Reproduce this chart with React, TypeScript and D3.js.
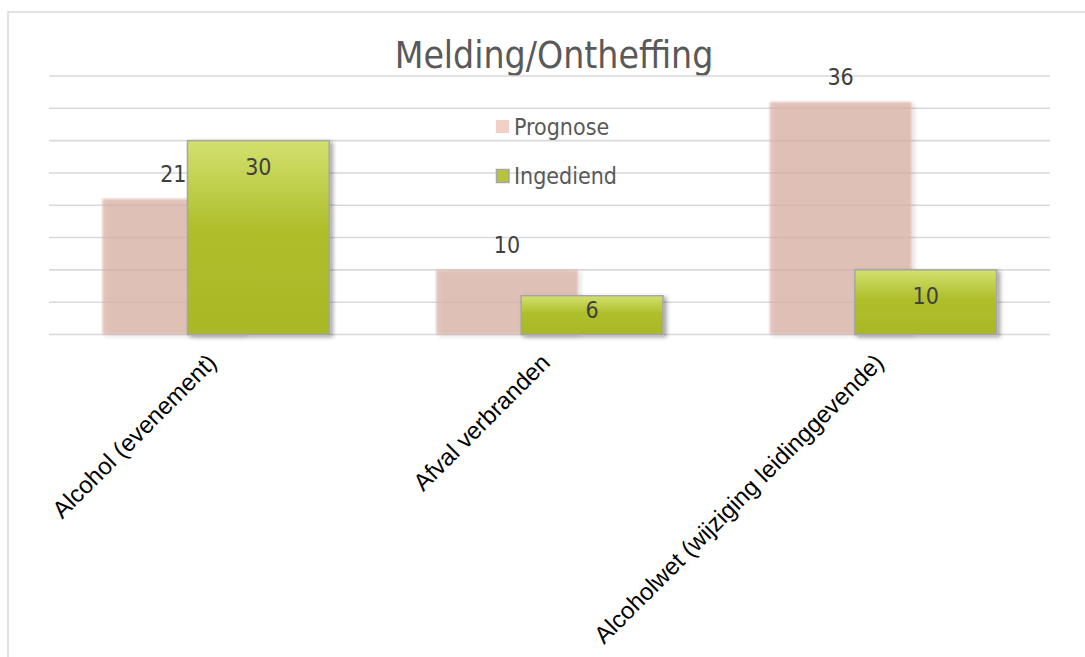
import React from "react";
import * as d3 from "d3";

const categories = ["Alcohol (evenement)", "Afval verbranden", "Alcoholwet (wijziging leidinggevende)"];
const seriesNames = ["Prognose", "Ingediend"];
const prognose = [21, 10, 36];
const ingediend = [30, 6, 10];
const yMax = 40;
const yTickStep = 5;

const W = 1085;
const H = 657;
const condensed = "'DejaVu Sans Condensed', 'DejaVu Sans', sans-serif";

export default function App() {
  const x = d3.scaleBand<string>().domain(categories).range([49, 1050]).paddingInner(0.32).paddingOuter(0.16);
  const y = d3.scaleLinear().domain([0, yMax]).range([334.5, 76]);
  const ticks = d3.range(0, yMax + yTickStep, yTickStep);
  const barW = x.bandwidth() / 1.6;
  const off = barW * 0.6;

  return (
    <svg width={W} height={H} style={{ position: "absolute", left: 0, top: 0, background: "#fff" }}>
      <defs>
        <linearGradient id="greenGrad" x1="0" y1="0" x2="0" y2="1">
          <stop offset="0" stopColor="#d3e06f" />
          <stop offset="0.45" stopColor="#afbf2c" />
          <stop offset="1" stopColor="#a8b826" />
        </linearGradient>
        <filter id="softPink" x="-10%" y="-10%" width="130%" height="120%">
          <feGaussianBlur in="SourceGraphic" stdDeviation="1.3" result="blur" />
          <feGaussianBlur in="SourceAlpha" stdDeviation="2" result="sb" />
          <feOffset in="sb" dx="3" dy="2" result="so" />
          <feComponentTransfer in="so" result="sh">
            <feFuncA type="linear" slope="0.18" />
          </feComponentTransfer>
          <feMerge>
            <feMergeNode in="sh" />
            <feMergeNode in="blur" />
          </feMerge>
        </filter>
        <filter id="shadow" x="-10%" y="-10%" width="130%" height="130%">
          <feDropShadow dx="3" dy="2" stdDeviation="2" floodColor="#000" floodOpacity="0.35" />
        </filter>
      </defs>

      {/* frame */}
      <rect x={8} y={12} width={W + 20} height={H + 20} fill="#fff" stroke="#d9d9d9" strokeWidth={1.5} />

      {/* title */}
      <text x={554} y={68} textAnchor="middle" fontFamily={condensed} fontStretch="condensed" fontSize={37} fill="#595959">
        Melding/Ontheffing
      </text>

      {/* gridlines */}
      {ticks.map((t) => (
        <line key={t} x1={49} x2={1050} y1={y(t)} y2={y(t)} stroke="#d9d9d9" strokeWidth={1.6} />
      ))}

      {/* prognose bars */}
      {categories.map((c, i) => (
        <rect
          key={"p" + c}
          x={x(c)!}
          y={y(prognose[i])}
          width={barW}
          height={y(0) - y(prognose[i])}
          fill="#d8b0a4"
          fillOpacity={0.72}
          filter="url(#softPink)"
        />
      ))}

      {/* ingediend bars */}
      {categories.map((c, i) => (
        <rect
          key={"g" + c}
          x={x(c)! + off}
          y={y(ingediend[i])}
          width={barW}
          height={y(0) - y(ingediend[i])}
          fill="url(#greenGrad)"
          stroke="#a6a6a6"
          strokeWidth={1.5}
          filter="url(#shadow)"
        />
      ))}

      {/* prognose labels */}
      {categories.map((c, i) => (
        <text
          key={"pl" + c}
          x={x(c)! + barW / 2}
          y={y(prognose[i]) - 17}
          textAnchor="middle"
          fontFamily={condensed}
          fontStretch="condensed"
          fontSize={23}
          fill="#404040"
        >
          {prognose[i]}
        </text>
      ))}

      {/* ingediend labels */}
      {categories.map((c, i) => {
        const top = y(ingediend[i]);
        const h = y(0) - top;
        return (
          <text
            key={"gl" + c}
            x={x(c)! + off + barW / 2}
            y={top + Math.min(34, h / 2 + 3)}
            textAnchor="middle"
            fontFamily={condensed}
            fontStretch="condensed"
            fontSize={23}
            fill="#404040"
          >
            {ingediend[i]}
          </text>
        );
      })}

      {/* legend */}
      <rect x={496} y={120} width={13} height={13} fill="#f2d0c8" />
      <text x={514} y={135} fontFamily={condensed} fontStretch="condensed" fontSize={23} fill="#595959">
        {seriesNames[0]}
      </text>
      <rect x={496.5} y={169.5} width={12.5} height={13} fill="#b5c43a" stroke="#a6a6a6" strokeWidth={1.5} />
      <text x={514} y={183.5} fontFamily={condensed} fontStretch="condensed" fontSize={23} fill="#595959">
        {seriesNames[1]}
      </text>

      {/* category labels */}
      {categories.map((c) => {
        const cx = x(c)! + x.bandwidth() / 2 + 2;
        return (
          <text
            key={"cl" + c}
            transform={`translate(${cx},364) rotate(-45)`}
            textAnchor="end"
            fontFamily="'Liberation Sans', Arial, sans-serif"
            fontSize={24}
            fill="#000"
          >
            {c}
          </text>
        );
      })}
    </svg>
  );
}
